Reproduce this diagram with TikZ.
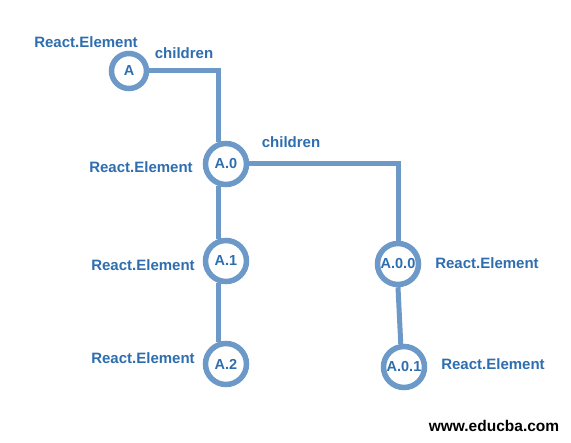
\documentclass[tikz,border=0pt]{standalone}
\usepackage{fontspec}
\setmainfont{Liberation Sans}
\definecolor{linecol}{RGB}{108,153,199}
\definecolor{textcol}{RGB}{46,110,175}
\begin{document}
\begin{tikzpicture}[x=1pt,y=-1pt,
  elem/.style={circle,draw=linecol,line width=5.5pt,fill=white,minimum size=41pt,inner sep=0pt,text=textcol,font=\fontsize{14.5}{17}\selectfont\bfseries},
  small/.style={elem,minimum size=35pt},
  lbl/.style={text=textcol,font=\fontsize{15}{18}\selectfont\bfseries,inner sep=0pt},
  conn/.style={draw=linecol,line width=5pt}]
\useasboundingbox (0,0) rectangle (571,443);
\fill[white] (0,0) rectangle (571,443);
\node[small] (A) at (129,71) {A};
\node[elem] (A0) at (226,164) {A.0};
\node[elem] (A1) at (226,261) {A.1};
\node[elem] (A2) at (226,364) {A.2};
\node[elem] (A00) at (398,264) {A.0.0};
\node[elem] (A01) at (404,367) {A.0.1};
\draw[conn] (A.east) -| (A0.110);
\draw[conn] (A0.250) -- (A1.110);
\draw[conn] (A1.250) -- (A2.110);
\draw[conn] (A0.east) -| (A00.north);
\draw[conn] (A00.south) -- (A01.98);
\node[lbl] (l1) at (86,42) {React.Element};
\node[lbl] (c1) at (184,53) {children};
\node[lbl] (l2) at (141,167) {React.Element};
\node[lbl] (c2) at (291,142) {children};
\node[lbl] (l3) at (143,265) {React.Element};
\node[lbl] (l4) at (143,358) {React.Element};
\node[lbl] (l5) at (487,263) {React.Element};
\node[lbl] (l6) at (493,364) {React.Element};
\node[lbl,text=black,font=\fontsize{15.5}{18}\selectfont\bfseries] (w) at (494,426) {www.educba.com};
\end{tikzpicture}
\end{document}
